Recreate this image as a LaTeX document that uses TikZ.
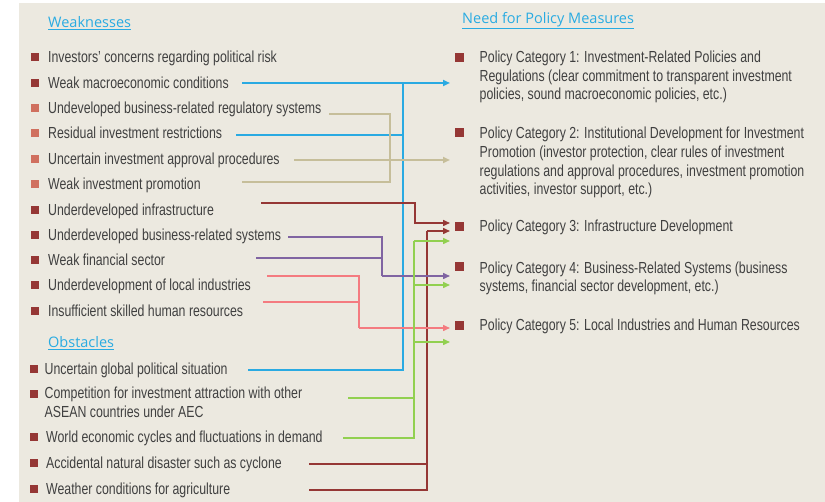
\documentclass[tikz,border=0pt]{standalone}
\usepackage{fontspec}
\setmainfont{Liberation Sans}[FakeStretch=0.77]
\newfontfamily\headfont{Open Sans}
\usetikzlibrary{arrows.meta,positioning,calc}
\definecolor{pgBack}{HTML}{ECE9E0}
\definecolor{pgText}{HTML}{404040}
\definecolor{pgHead}{HTML}{29ABE2}
\definecolor{pgBlue}{HTML}{2AAAE2}
\definecolor{pgTan}{HTML}{C6BE9A}
\definecolor{pgRed}{HTML}{953735}
\definecolor{pgSalmon}{HTML}{D0705F}
\definecolor{pgPurple}{HTML}{8064A2}
\definecolor{pgPink}{HTML}{F47B80}
\definecolor{pgGreen}{HTML}{92D050}
\tikzset{
    itemText/.style={
        anchor=base west,
        inner sep=0pt,
        font=\fontsize{16}{19}\selectfont,
        text=pgText,
        align=left
    },
    headText/.style={
        anchor=west,
        inner sep=0pt,
        font=\headfont\fontsize{14.5}{17}\selectfont,
        text=pgHead
    },
    % bullets
    darkBullet/.style={fill=pgRed},
    lightBullet/.style={fill=pgSalmon},
    % connectors
    link/.style={line width=1.5pt},
    tip/.style={-{Triangle[length=7pt,width=6pt]}},
    blueLink/.style={link, draw=pgBlue},
    tanLink/.style={link, draw=pgTan},
    redLink/.style={link, draw=pgRed},
    purpleLink/.style={link, draw=pgPurple},
    pinkLink/.style={link, draw=pgPink},
    greenLink/.style={link, draw=pgGreen}
}
\begin{document}
\begin{tikzpicture}[x=1pt, y=-1pt]
\useasboundingbox (0,0) rectangle (825,502);
\fill[pgBack] (19,3) rectangle (825,502);

% Headings
\node[headText] (weak) at (48,23) {\underline{Weaknesses}};
\node[headText] (obst) at (48,343.5) {\underline{Obstacles}};
\node[headText] (need) at (462,20.5) {\underline{Need for Policy Measures}};

% Weaknesses
\node[itemText] (w1) at (48,62.5) {Investors' concerns regarding political risk};
\node[itemText] (w2) at (48,88.5) {Weak macroeconomic conditions};
\node[itemText] (w3) at (48,113.5) {Undeveloped business-related regulatory systems};
\node[itemText] (w4) at (48,138.5) {Residual investment restrictions};
\node[itemText] (w5) at (48,164.5) {Uncertain investment approval procedures};
\node[itemText] (w6) at (48,189.5) {Weak investment promotion};
\node[itemText] (w7) at (48,215.5) {Underdeveloped infrastructure};
\node[itemText] (w8) at (48,240.5) {Underdeveloped business-related systems};
\node[itemText] (w9) at (48,265.5) {Weak financial sector};
\node[itemText] (w10) at (48,290.5) {Underdevelopment of local industries};
\node[itemText] (w11) at (48,316.5) {Insufficient skilled human resources};

% Obstacles (multi-line nodes sit on their last baseline)
\node[itemText] (o1) at (44.5,374.5) {Uncertain global political situation};
\node[itemText] (o2) at (44.5,418) {Competition for investment attraction with other\\ASEAN countries under AEC};
\node[itemText] (o3) at (46,443) {World economic cycles and fluctuations in demand};
\node[itemText] (o4) at (46,468.5) {Accidental natural disaster such as cyclone};
\node[itemText] (o5) at (46,494.5) {Weather conditions for agriculture};

% Policy measures
\node[itemText, font=\fontsize{16}{18.6}\selectfont] (p1) at (479.5,100)
    {Policy Category 1: Investment-Related Policies and\\Regulations (clear commitment to transparent investment\\policies, sound macroeconomic policies, etc.)};
\node[itemText, font=\fontsize{16}{18.7}\selectfont] (p2) at (479.5,194.8)
    {Policy Category 2: Institutional Development for Investment\\Promotion (investor protection, clear rules of investment\\regulations and approval procedures, investment promotion\\activities, investor support, etc.)};
\node[itemText] (p3) at (479.5,232)
    {Policy Category 3: Infrastructure Development};
\node[itemText, font=\fontsize{16}{18}\selectfont] (p4) at (479.5,291.2)
    {Policy Category 4: Business-Related Systems (business\\systems, financial sector development, etc.)};
\node[itemText] (p5) at (479.5,330.5)
    {Policy Category 5: Local Industries and Human Resources};

% Bullets
\foreach \y in {57,83,210,235,260,285,311}
    \fill[darkBullet] (31,\y-4) rectangle ++(8,8);
\foreach \y in {108,133,159,184}
    \fill[lightBullet] (31,\y-4) rectangle ++(8,8);
\foreach \y in {369,394,437,463,489}
    \fill[darkBullet] (29.5,\y-4) rectangle ++(8,8);
\foreach \y in {57.5,132.5,226.5,266.5,325.5}
    \fill[darkBullet] (455,\y-4) rectangle ++(8.5,8.5);

% Connector start points
\coordinate (w2s) at (242,83);
\coordinate (w3s) at (329,114);
\coordinate (w4s) at (236,135);
\coordinate (w5s) at (294,160);
\coordinate (w6s) at (242,182);
\coordinate (w7s) at (261,203);
\coordinate (w8s) at (288,237);
\coordinate (w9s) at (256,258);
\coordinate (w10s) at (267,276);
\coordinate (w11s) at (263,302);
\coordinate (o1s) at (248,370);
\coordinate (o2s) at (348,398);
\coordinate (o3s) at (343,438);
\coordinate (o4s) at (309,464);
\coordinate (o5s) at (309,490);

% Trunks and arrow ends
\coordinate (blueBus) at (403,83);
\coordinate (tanBus) at (390,160);
\coordinate (redBus) at (427,231);
\coordinate (purpleBus) at (382,276);
\coordinate (pinkBus) at (359,328);
\coordinate (greenBus) at (414,241);
\coordinate (p1a) at (450,83);
\coordinate (p2a) at (450,160);
\coordinate (p3a) at (450,223);
\coordinate (p3b) at (450,231);
\coordinate (p3c) at (450,241);
\coordinate (p4a) at (450,276);
\coordinate (p4b) at (450,285);
\coordinate (p5a) at (450,328);
\coordinate (p5b) at (450,342);

% Blue
\draw[blueLink] (w2s) -- (blueBus);
\draw[blueLink, line width=2.4pt, tip] (blueBus) -- (p1a);
\draw[blueLink] (w4s) -- (w4s -| blueBus);
\draw[blueLink, line width=2pt] (o1s) -| (blueBus);

% Tan
\draw[tanLink] (w3s) -| (tanBus) |- (w6s);
\draw[tanLink] (w5s) -- (tanBus);
\draw[tanLink, line width=2.8pt, tip] (tanBus) -- (p2a);

% Dark red
\draw[redLink, tip] (w7s) -| (415,223) -- (p3a);
\draw[redLink] (o4s) -- (o4s -| redBus);
\draw[redLink] (o5s) -| (redBus);
\draw[redLink, tip] (redBus) -- (p3b);

% Purple
\draw[purpleLink] (w8s) -| (purpleBus);
\draw[purpleLink] (w9s) -- (w9s -| purpleBus);
\draw[purpleLink, tip] (purpleBus) -- (p4a);

% Pink
\draw[pinkLink] (w10s) -| (pinkBus);
\draw[pinkLink] (w11s) -- (w11s -| pinkBus);
\draw[pinkLink, tip] (pinkBus) -- (p5a);

% Green
\draw[greenLink] (o2s) -- (o2s -| greenBus);
\draw[greenLink] (o3s) -| (greenBus);
\draw[greenLink, tip] (greenBus) -- (p3c);
\draw[greenLink, tip] (greenBus |- p4b) -- (p4b);
\draw[greenLink, tip] (greenBus |- p5b) -- (p5b);
\end{tikzpicture}
\end{document}
